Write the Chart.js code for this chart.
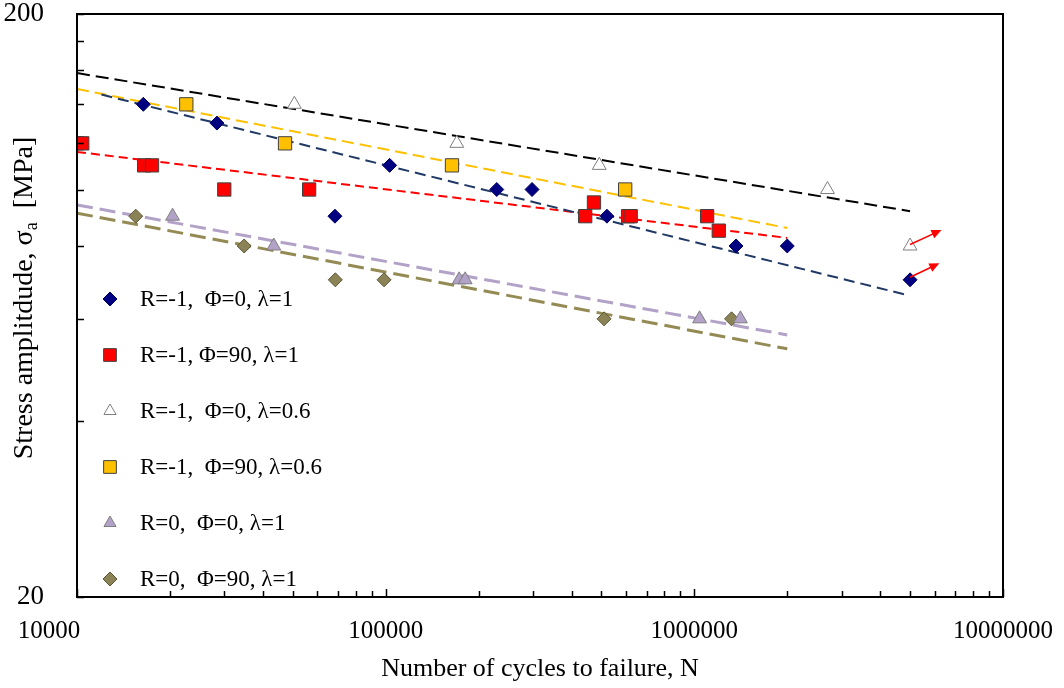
<!DOCTYPE html>
<html>
<head>
<meta charset="utf-8">
<script src="https://cdn.jsdelivr.net/npm/chart.js@4"></script>
<style>
  body { margin: 0; background: #fff; }
  #wrap { width: 1064px; height: 688px; }
</style>
</head>
<body>
<div id="wrap"><canvas id="snChart" width="1064" height="688"></canvas></div>
<script>
// --- test data (N = cycles to failure, S = stress amplitude, MPa) ---
// R=-1, Phi=0, lambda=1
const n1 = [16400, 28400, 68500, 103000, 229000, 298000, 521000, 1365000, 2000000, 5000000];
const s1 = [140, 130, 90, 110, 100, 100, 90, 80, 80, 70];
// R=-1, Phi=90, lambda=1
const n2 = [10000, 10400, 16500, 17500, 30000, 56500, 443000, 473000, 610000, 622000, 1100000, 1200000];
const s2 = [120, 120, 110, 110, 100, 100, 90, 95, 90, 90, 90, 85];
// R=-1, Phi=0, lambda=0.6
const n3 = [50600, 170000, 492000, 2700000, 5000000];
const s3 = [140, 120, 110, 100, 80];
// R=-1, Phi=90, lambda=0.6
const n4 = [22600, 47200, 164000, 597000];
const s4 = [140, 120, 110, 100];
// R=0, Phi=0, lambda=1
const n5 = [20400, 43400, 173000, 181000, 1040000, 1410000];
const s5 = [90, 80, 70, 70, 60, 60];
// R=0, Phi=90, lambda=1
const n6 = [15500, 34800, 68700, 98800, 510000, 1320000];
const s6 = [90, 80, 70, 70, 60, 60];

// fitted S-N lines (end points)
const fitN1 = [12000, 4900000], fitS1 = [145.5, 65.9];
const fitN2 = [10000, 2000000], fitS2 = [116, 82.6];
const fitN3 = [10000, 5000000], fitS3 = [158.4, 91.8];
const fitN4 = [10000, 2000000], fitS4 = [148.7, 85.9];
const fitN5 = [10000, 2000000], fitS5 = [94.1, 56.3];
const fitN6 = [10000, 2000000], fitS6 = [91.1, 53.3];

// run-out arrows
const runFromN = [5000000, 5000000], runFromS = [80.5, 70.7];
const runToN = [6320000, 6220000], runToS = [85.2, 74.7];

const xTicks = [10000, 20000, 30000, 40000, 50000, 60000, 70000, 80000, 90000,
  100000, 200000, 300000, 400000, 500000, 600000, 700000, 800000, 900000,
  1000000, 2000000, 3000000, 4000000, 5000000, 6000000, 7000000, 8000000, 9000000, 10000000];
const yTicks = [20, 40, 60, 80, 100, 120, 140, 160, 180, 200];

const labels = ['R=-1,  \u03A6=0, \u03BB=1', 'R=-1, \u03A6=90, \u03BB=1', 'R=-1,  \u03A6=0, \u03BB=0.6',
  'R=-1,  \u03A6=90, \u03BB=0.6', 'R=0,  \u03A6=0, \u03BB=1', 'R=0,  \u03A6=90, \u03BB=1'];

const pts = (n, s) => n.map((v, i) => ({ x: v, y: s[i] }));
const serif = 'Liberation Serif';

function marks(i, data, style, radius, fill, edge) {
  return {
    label: labels[i], data: data, pointStyle: style, pointRadius: radius,
    pointHoverRadius: radius, backgroundColor: fill, borderColor: edge,
    pointBorderWidth: 1, showLine: false, order: 1
  };
}
function fit(data, color, width, dash) {
  return {
    label: '', data: data, showLine: true, pointRadius: 0, borderColor: color,
    borderWidth: width, borderDash: dash, fill: false, order: 5
  };
}

const isDecade = v => Math.abs(Math.log10(v) - Math.round(Math.log10(v))) < 1e-9;

// box, inward ticks, legend, y title and run-out arrows
const decor = {
  id: 'decor',
  afterDatasetsDraw(chart) {
    const { ctx, chartArea: a, scales: { x, y } } = chart;
    ctx.save();

    // arrows
    ctx.strokeStyle = '#ff0000';
    ctx.fillStyle = '#ff0000';
    ctx.lineWidth = 1.6;
    runFromN.forEach((n, i) => {
      const x0 = x.getPixelForValue(n), y0 = y.getPixelForValue(runFromS[i]);
      const x1 = x.getPixelForValue(runToN[i]), y1 = y.getPixelForValue(runToS[i]);
      const ang = Math.atan2(y1 - y0, x1 - x0);
      ctx.beginPath();
      ctx.moveTo(x0, y0);
      ctx.lineTo(x1 - 8 * Math.cos(ang), y1 - 8 * Math.sin(ang));
      ctx.stroke();
      ctx.beginPath();
      ctx.moveTo(x1, y1);
      ctx.lineTo(x1 - 10 * Math.cos(ang) + 4.5 * Math.sin(ang), y1 - 10 * Math.sin(ang) - 4.5 * Math.cos(ang));
      ctx.lineTo(x1 - 10 * Math.cos(ang) - 4.5 * Math.sin(ang), y1 - 10 * Math.sin(ang) + 4.5 * Math.cos(ang));
      ctx.closePath();
      ctx.fill();
    });

    // frame
    ctx.strokeStyle = '#000';
    ctx.lineWidth = 2;
    ctx.strokeRect(a.left, a.top, a.right - a.left, a.bottom - a.top);

    ctx.lineWidth = 1.5;
    ctx.beginPath();
    x.ticks.forEach(t => {
      const px = Math.round(x.getPixelForValue(t.value)) + 0.5;
      const len = isDecade(t.value) ? 8 : 6;
      ctx.moveTo(px, a.bottom);
      ctx.lineTo(px, a.bottom - len);
    });
    y.ticks.forEach(t => {
      const py = Math.round(y.getPixelForValue(t.value)) + 0.5;
      ctx.moveTo(a.left, py);
      ctx.lineTo(a.left + 7, py);
    });
    ctx.stroke();

    // legend
    ctx.font = '23px "' + serif + '"';
    ctx.textBaseline = 'middle';
    ctx.textAlign = 'left';
    for (let i = 0; i < 6; i++) {
      const ds = chart.data.datasets[i];
      const ly = 299 + i * 56;
      ctx.fillStyle = ds.backgroundColor;
      ctx.strokeStyle = ds.borderColor;
      ctx.lineWidth = 1;
      Chart.helpers.drawPoint(ctx, {
        pointStyle: ds.pointStyle, radius: ds.pointStyle === 'rect' ? 9 : 7,
        rotation: 0, borderWidth: 1
      }, 110, ly);
      ctx.fillStyle = '#000';
      ctx.fillText(ds.label, 140, ly + 1);
    }

    // y axis title with subscript
    const main = 'Stress amplitdude, \u03C3';
    const tail = '  [MPa]';
    ctx.font = '28px "' + serif + '"';
    const w1 = ctx.measureText(main).width;
    const w3 = ctx.measureText(tail).width;
    ctx.font = '18px "' + serif + '"';
    const w2 = ctx.measureText('a').width;
    const total = w1 + w2 + w3;
    ctx.translate(32, 298);
    ctx.rotate(-Math.PI / 2);
    ctx.fillStyle = '#000';
    ctx.textBaseline = 'alphabetic';
    ctx.font = '28px "' + serif + '"';
    ctx.fillText(main, -total / 2, 0);
    ctx.font = '18px "' + serif + '"';
    ctx.fillText('a', -total / 2 + w1, 5);
    ctx.font = '28px "' + serif + '"';
    ctx.fillText(tail, -total / 2 + w1 + w2, 0);

    ctx.restore();
  }
};

new Chart(document.getElementById('snChart'), {
  type: 'scatter',
  data: {
    datasets: [
      marks(0, pts(n1, s1), 'rectRot', 7, '#000080', '#000060'),
      marks(1, pts(n2, s2), 'rect', 9.4, '#ff0000', '#404040'),
      marks(2, pts(n3, s3), 'triangle', 8, '#ffffff', '#7f7f7f'),
      marks(3, pts(n4, s4), 'rect', 9.4, '#ffc000', '#404040'),
      marks(4, pts(n5, s5), 'triangle', 8, '#b3a2c7', '#7f7f7f'),
      marks(5, pts(n6, s6), 'rectRot', 7, '#8b8356', '#5a5535'),
      fit(pts(fitN1, fitS1), '#1f3864', 2, [11, 6]),
      fit(pts(fitN2, fitS2), '#ff0000', 2, [9, 5]),
      fit(pts(fitN3, fitS3), '#000000', 2, [13, 6]),
      fit(pts(fitN4, fitS4), '#ffc000', 2, [12, 6]),
      fit(pts(fitN5, fitS5), '#b3a2c7', 3, [16, 7]),
      fit(pts(fitN6, fitS6), '#948a54', 3, [16, 7])
    ]
  },
  options: {
    responsive: false,
    animation: false,
    layout: { padding: { left: 0, right: 61, top: 14, bottom: 0 } },
    plugins: {
      legend: { display: false },
      tooltip: { enabled: false }
    },
    scales: {
      x: {
        type: 'logarithmic',
        min: 10000,
        max: 10000000,
        afterBuildTicks: s => { s.ticks = xTicks.map(v => ({ value: v })); },
        afterFit: s => { s.height = 91; s.paddingLeft = 0; s.paddingRight = 0; },
        grid: { display: false },
        border: { display: false },
        ticks: {
          autoSkip: false, maxRotation: 0, minRotation: 0, padding: 11,
          color: '#000', font: { family: serif, size: 25 },
          // first label sits a little left of its tick in the original
          callback: v => !isDecade(v) ? '' : (v === 10000 ? '10000' + ' '.repeat(9) : String(Math.round(v)))
        },
        title: {
          display: true, text: 'Number of cycles to failure, N', color: '#000',
          font: { family: serif, size: 26 }, padding: { top: 0, bottom: 3 }
        }
      },
      y: {
        type: 'logarithmic',
        min: 20,
        max: 200,
        afterBuildTicks: s => { s.ticks = yTicks.map(v => ({ value: v })); },
        afterFit: s => { s.width = 77; s.paddingTop = 0; s.paddingBottom = 0; },
        grid: { display: false },
        border: { display: false },
        ticks: {
          autoSkip: false, padding: 25, color: '#000',
          font: { family: serif, size: 27 },
          callback: v => (v === 20 || v === 200) ? String(v) : ''
        }
      }
    }
  },
  plugins: [decor]
});
</script>
</body>
</html>
